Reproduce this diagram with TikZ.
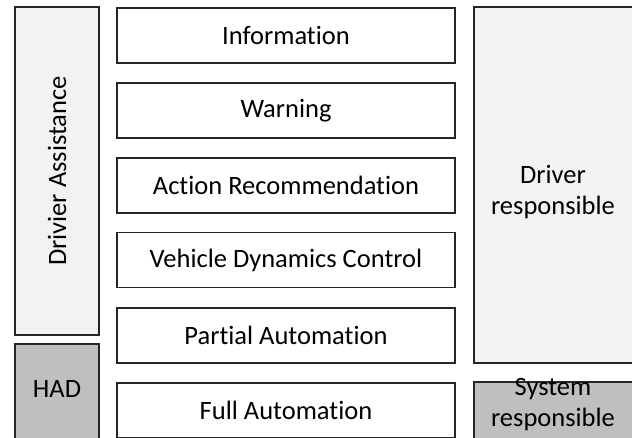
\documentclass[tikz,border=0pt]{standalone}
\usepackage{fontspec}
\setmainfont[Ligatures=NoCommon]{Carlito}
\definecolor{lightfill}{RGB}{242,242,242}
\definecolor{hadfill}{RGB}{191,191,191}
\definecolor{edgegray}{RGB}{38,38,38}

\tikzset{every picture/.style={line width=1.3pt}}
\tikzset{
  levelbox/.style={draw=edgegray,fill=white,minimum width=338pt,minimum height=55pt,inner sep=0pt,font=\fontsize{26.5}{31}\selectfont},
  sidebox/.style={draw=edgegray,inner sep=0pt,minimum width=84pt},
  respbox/.style={draw=edgegray,inner sep=0pt,minimum width=160pt},
  boxtext/.style={inner sep=0pt,align=center,font=\fontsize{26.5}{31}\selectfont}
}

\begin{document}
\begin{tikzpicture}[x=1pt,y=1pt,yscale=-1,xscale=1]
\useasboundingbox (0,0) rectangle (632,437);
\clip (0,0) rectangle (632,437);

% left column
\node [sidebox,fill=lightfill,minimum height=328pt] (assist) at (57,171) {};
\node [boxtext,rotate=90] (assisttext) at (assist.center) {Drivier Assistance};
\node [sidebox,fill=hadfill,minimum height=96pt] (had) at (57,392) {};
\node [boxtext] (hadtext) at (57,389) {HAD};

% levels
\node [levelbox] (info) at (286,35.5) {Information};
\node [levelbox] (warn) at (286,110.5) {Warning};
\node [levelbox] (action) at (286,185.5) {Action Recommendation};
\node [levelbox] (vdc) at (286,260) {Vehicle Dynamics Control};
\node [levelbox] (partial) at (286,335.5) {Partial Automation};
\node [levelbox] (full) at (286,410.5) {Full Automation};

% right column
\node [respbox,fill=lightfill,minimum height=356pt] (driver) at (554,185) {};
\node [boxtext] (drivertext) at (553,192) {Driver\\responsible};
\node [respbox,fill=hadfill,minimum height=60pt] (system) at (554,412) {};
\node [boxtext] (systemtext) at (553,405) {System\\responsible};

\end{tikzpicture}
\end{document}
